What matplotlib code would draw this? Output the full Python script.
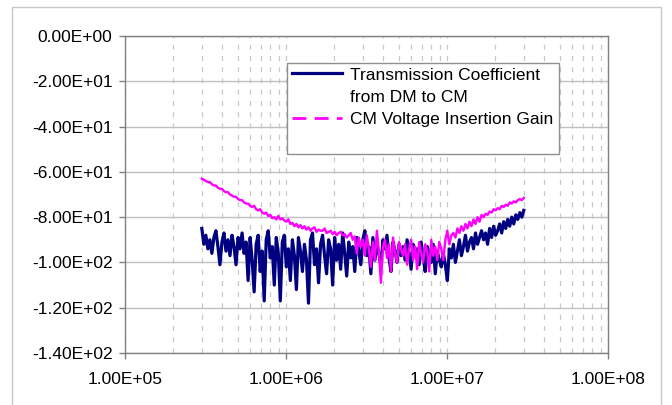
import numpy as np
import matplotlib
matplotlib.use("Agg")
import matplotlib.pyplot as plt
from matplotlib.patches import Rectangle
from matplotlib.lines import Line2D
from matplotlib.ticker import FixedLocator, LogLocator, NullFormatter

# frequency samples (Hz), log-spaced measurement points
freq = np.logspace(np.log10(3e5), np.log10(3e7), 161)

trans_coeff = [
    -85, -92, -88, -94, -90, -96, -89, -86, -93, -101, -91, -87, -95, -90, -97, -88, -93, -101, -89, -94,
    -87, -96, -91, -108, -89, -99, -113, -92, -88, -104, -95, -117, -90, -86, -98, -93, -110, -89, -96, -117,
    -91, -88, -102, -94, -108, -90, -97, -112, -89, -95, -104, -92, -99, -118, -90, -87, -101, -94, -109, -92,
    -88, -97, -105, -90, -94, -110, -89, -99, -92, -103, -87, -96, -106, -91, -98, -93, -104, -89, -95, -101,
    -90, -86, -97, -93, -105, -89, -99, -92, -96, -102, -90, -94, -88, -98, -104, -91, -95, -100, -92, -97,
    -93, -99, -90, -96, -103, -92, -97, -94, -101, -91, -98, -104, -93, -96, -100, -92, -105, -95, -99, -102,
    -96, -101, -108, -94, -98, -92, -100, -95, -90, -97, -93, -88, -95, -91, -89, -94, -87, -92, -89, -86,
    -90, -87, -92, -85, -89, -84, -88, -86, -83, -87, -82, -85, -81, -84, -80, -83, -79, -81, -78, -80, -77,
]

cm_gain = [
    -63, -63.5, -64, -64.5, -64.5, -65.5, -66, -66, -67, -67.5, -67.5, -68.5, -69, -69, -70, -70.5, -71, -71, -72, -72.5,
    -72.5, -73.5, -74, -74, -75, -75.5, -75, -76.5, -77, -76.5, -78, -78.5, -78, -79.5, -79, -80.5, -80, -81, -79.5, -81,
    -80.5, -81.5, -82, -81, -83, -82.5, -84, -83, -84.5, -83.5, -85, -84, -85.5, -84.5, -86, -85, -84.5, -86.5, -85.5, -86,
    -86, -85, -87, -86.5, -86, -87.5, -86.5, -88, -87, -86.5, -88, -87.5, -89, -88, -87, -90, -88.5, -96, -89, -93,
    -90, -97, -88, -94, -102, -91, -99, -86, -95, -109, -93, -90, -98, -92, -104, -89, -96, -100, -91, -94,
    -97, -92, -101, -94, -90, -99, -93, -103, -91, -96, -100, -92, -95, -104, -90, -97, -93, -99, -91, -94,
    -99, -90, -86, -92, -88, -87, -89, -85, -87, -84, -86, -83, -85, -82, -84, -81, -83, -80, -82, -79,
    -80, -78.5, -79, -77.5, -78, -76.5, -77, -76, -76.5, -75, -75.5, -74.5, -75, -73.5, -74, -73, -73.5, -72.5, -72, -72.5, -71.5,
]

series_labels = ["Transmission Coefficient", "from DM to CM", "CM Voltage Insertion Gain"]
y_ticks = [0, -20, -40, -60, -80, -100, -120, -140]
y_ticklabels = ["0.00E+00", "-2.00E+01", "-4.00E+01", "-6.00E+01", "-8.00E+01",
                "-1.00E+02", "-1.20E+02", "-1.40E+02"]
x_ticks = [1e5, 1e6, 1e7, 1e8]
x_ticklabels = ["1.00E+05", "1.00E+06", "1.00E+07", "1.00E+08"]

plt.rcParams['font.family'] = ['Liberation Sans', 'DejaVu Sans']

fig = plt.figure(figsize=(6.72, 4.05), dpi=100)
fig.patch.set_facecolor('white')
# outer chart border
fig.patches.append(Rectangle((12/672, -0.05), (661-12)/672, 1 - 7/405 + 0.05,
                             transform=fig.transFigure, fill=False,
                             edgecolor='#c8c8c8', linewidth=1.0))

ax = fig.add_axes([125/672, 1-353/405, (608-125)/672, (353-36)/405])
ax.set_xscale('log')
ax.set_xlim(1e5, 1e8)
ax.set_ylim(-140, 0)

blue = '#000080'
mag = '#ff00ff'
ax.plot(freq, trans_coeff, color=blue, lw=2.3, zorder=3)
ax.plot(freq, cm_gain, color=mag, lw=1.7, zorder=4)

ax.set_yticks(y_ticks)
ax.set_yticklabels(y_ticklabels)
ax.xaxis.set_major_locator(FixedLocator(x_ticks))
ax.set_xticklabels(x_ticklabels)
ax.xaxis.set_minor_locator(LogLocator(base=10, subs=np.arange(2, 10)))
ax.xaxis.set_minor_formatter(NullFormatter())

ax.tick_params(axis='both', which='major', labelsize=12.5, length=4, color='#808080',
               labelcolor='black', width=1)
ax.tick_params(axis='x', which='major', pad=10)
ax.tick_params(axis='y', which='major', pad=5)
ax.tick_params(axis='x', which='minor', length=0)

ax.grid(True, axis='y', which='major', color='#c0c0c0', lw=1.0, ls='-', zorder=1)
ax.grid(True, axis='x', which='both', color='#c8c8c8', lw=0.9, ls=(0, (4, 5)), zorder=0)
ax.set_axisbelow(True)

for s in ax.spines.values():
    s.set_color('#808080')
    s.set_linewidth(1.0)

# legend frame
ax.add_patch(Rectangle((0.335, 0.628), 0.899-0.335, 0.915-0.628, transform=ax.transAxes,
                       facecolor='white', edgecolor='#909090', lw=1.0, zorder=5))
handles = [Line2D([], [], color=blue, lw=2.3),
           Line2D([], [], color='none', lw=0),
           Line2D([], [], color=mag, lw=2.0, ls=(0, (5, 3)))]
leg = ax.legend(handles, series_labels, loc='upper left', bbox_to_anchor=(0.338, 0.912),
                frameon=False, fontsize=12.5, handlelength=2.9, handletextpad=0.45,
                labelspacing=0.4, borderpad=0.2, borderaxespad=0.0)
leg.set_zorder(6)

fig.savefig('out.png', dpi=100, facecolor='white')
